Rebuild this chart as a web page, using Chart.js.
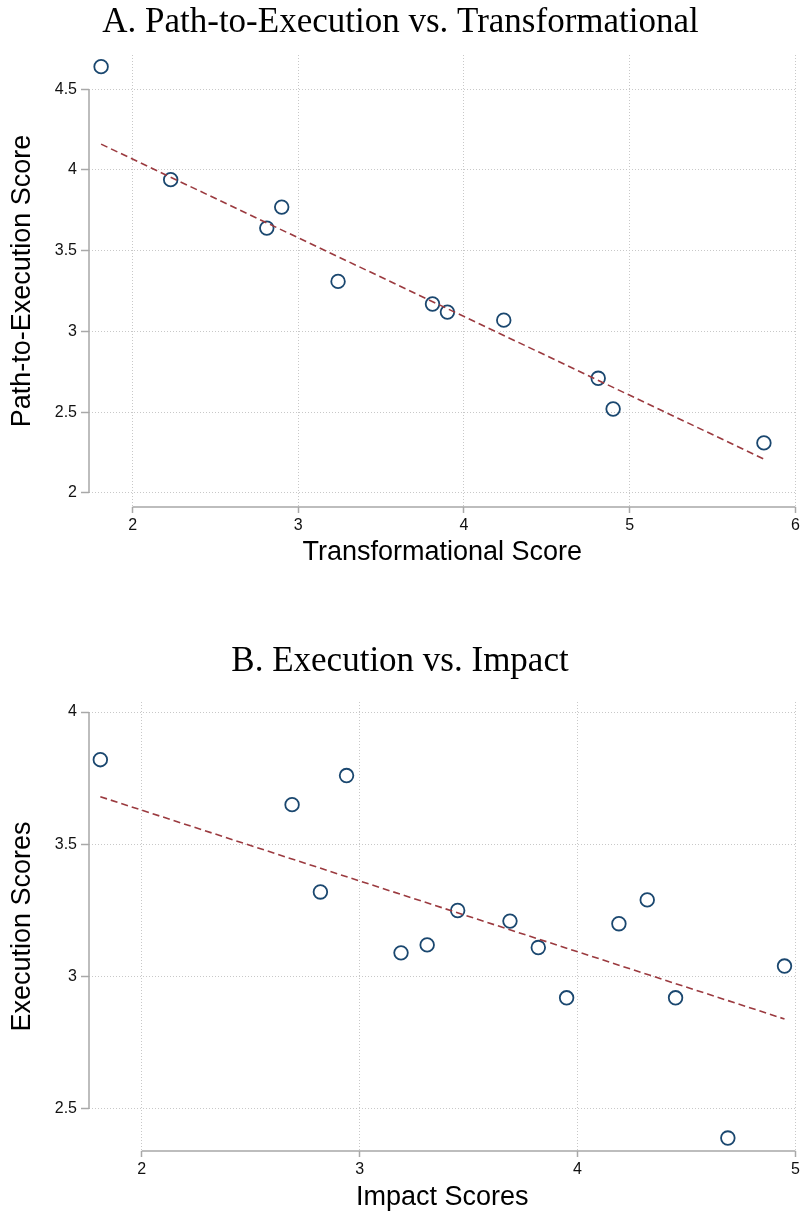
<!DOCTYPE html>
<html>
<head>
<meta charset="utf-8">
<script src="https://cdn.jsdelivr.net/npm/chart.js@4"></script>
<style>
  html, body { margin: 0; padding: 0; background: #fff; }
  canvas { display: block; }
</style>
</head>
<body>
<canvas id="chartA" width="804" height="607"></canvas>
<canvas id="chartB" width="804" height="607"></canvas>
<script>
// Panel A: path-to-execution vs transformational
const transformationalScore = [1.81, 2.23, 2.81, 2.90, 3.24, 3.81, 3.90, 4.24, 4.81, 4.90, 5.81];
const pathToExecutionScore = [4.64, 3.94, 3.64, 3.77, 3.31, 3.17, 3.12, 3.07, 2.71, 2.52, 2.31];
const fitAx = [1.81, 5.81];
const fitAy = [4.16, 2.21];
const ticksAx = [2, 3, 4, 5, 6];
const ticksAy = [2, 2.5, 3, 3.5, 4, 4.5];

// Panel B: execution vs impact
const impactScores = [1.81, 2.69, 2.82, 2.94, 3.19, 3.31, 3.45, 3.69, 3.82, 3.95, 4.19, 4.32, 4.45, 4.69, 4.95];
const executionScores = [3.82, 3.65, 3.32, 3.76, 3.09, 3.12, 3.25, 3.21, 3.11, 2.92, 3.20, 3.29, 2.92, 2.39, 3.04];
const fitBx = [1.81, 4.95];
const fitBy = [3.68, 2.84];
const ticksBx = [2, 3, 4, 5];
const ticksBy = [2.5, 3, 3.5, 4];

const markerColor = '#1a476f';
const fitColor = '#9b3a3f';
const axisColor = '#a8a8a8';
const gridColor = '#c8c8c8';
const sans = "'Liberation Sans', Arial, sans-serif";
const serif = "'Liberation Serif', 'Times New Roman', serif";

// axis lines that only run between the first and last tick
const trimmedAxes = {
  id: 'trimmedAxes',
  beforeDatasetsDraw(chart) {
    const {ctx, chartArea, scales: {x, y}} = chart;
    const xt = x.ticks, yt = y.ticks;
    ctx.save();
    ctx.strokeStyle = axisColor;
    ctx.lineWidth = 1.5;
    ctx.setLineDash([]);
    ctx.beginPath();
    ctx.moveTo(chartArea.left, y.getPixelForValue(yt[yt.length - 1].value));
    ctx.lineTo(chartArea.left, y.getPixelForValue(yt[0].value));
    ctx.moveTo(x.getPixelForValue(xt[0].value), chartArea.bottom);
    ctx.lineTo(x.getPixelForValue(xt[xt.length - 1].value), chartArea.bottom);
    ctx.stroke();
    ctx.restore();
  }
};

function toPoints(xs, ys) {
  return xs.map((v, i) => ({x: v, y: ys[i]}));
}

function axis(opts) {
  return {
    type: 'linear',
    min: opts.min,
    max: opts.max,
    afterBuildTicks: s => { s.ticks = opts.ticks.map(v => ({value: v})); },
    afterFit: s => {
      if (opts.width) s.width = opts.width;
      if (opts.height) s.height = opts.height;
      s.paddingLeft = 0; s.paddingRight = 0; s.paddingTop = 0; s.paddingBottom = 0;
    },
    grid: {
      color: gridColor, lineWidth: 1, borderDash: [1, 2],
      tickColor: axisColor, tickWidth: 1.5, tickLength: opts.tickLength, tickBorderDash: []
    },
    border: { display: false, dash: [1, 2] },
    ticks: {
      color: '#111', padding: opts.tickPadding, autoSkip: false, maxRotation: 0,
      font: { family: sans, size: 16 },
      callback: v => String(v)
    },
    title: {
      display: true, text: opts.title, color: '#000',
      font: { family: sans, size: 27, lineHeight: 1.2 },
      padding: opts.titlePadding
    }
  };
}

function makeChart(id, cfg) {
  return new Chart(document.getElementById(id), {
    type: 'scatter',
    data: {
      datasets: [
        {
          data: toPoints(cfg.fitX, cfg.fitY),
          showLine: true,
          borderColor: fitColor,
          borderWidth: 1.6,
          borderDash: [7, 4],
          pointRadius: 0,
          clip: false
        },
        {
          data: toPoints(cfg.x, cfg.y),
          pointStyle: 'circle',
          pointRadius: 6.8,
          pointBorderWidth: 1.8,
          borderColor: markerColor,
          backgroundColor: 'rgba(255,255,255,0)',
          clip: false
        }
      ]
    },
    options: {
      responsive: false,
      animation: false,
      devicePixelRatio: 1,
      layout: { padding: { left: 0, right: cfg.rightPad, top: 0, bottom: 0 } },
      plugins: {
        legend: { display: false },
        tooltip: { enabled: false },
        title: {
          display: true, text: cfg.title, color: '#000',
          font: { family: serif, size: 35, weight: 'normal', lineHeight: 1.2 },
          padding: cfg.titlePadding
        }
      },
      scales: {
        x: axis({ min: cfg.xMin, max: cfg.xMax, ticks: cfg.xTicks, height: cfg.xHeight,
                  tickLength: 6, tickPadding: 3, title: cfg.xTitle,
                  titlePadding: { top: 0, bottom: cfg.xTitleBottom } }),
        y: axis({ min: cfg.yMin, max: cfg.yMax, ticks: cfg.yTicks, width: 89,
                  tickLength: 8, tickPadding: 4, title: cfg.yTitle,
                  titlePadding: { top: 6, bottom: 0 } })
      }
    },
    plugins: [trimmedAxes]
  });
}

makeChart('chartA', {
  title: 'A. Path-to-Execution vs. Transformational',
  titlePadding: { top: 2, bottom: 11 },
  x: transformationalScore, y: pathToExecutionScore, fitX: fitAx, fitY: fitAy,
  xMin: 1.737, xMax: 6.0, yMin: 1.913, yMax: 4.712,
  xTicks: ticksAx, yTicks: ticksAy,
  xTitle: 'Transformational Score', yTitle: 'Path-to-Execution Score',
  xHeight: 100, xTitleBottom: 38, rightPad: 3
});

makeChart('chartB', {
  title: 'B. Execution vs. Impact',
  titlePadding: { top: 34, bottom: 19 },
  x: impactScores, y: executionScores, fitX: fitBx, fitY: fitBy,
  xMin: 1.758, xMax: 5.0, yMin: 2.341, yMax: 4.038,
  xTicks: ticksBx, yTicks: ticksBy,
  xTitle: 'Impact Scores', yTitle: 'Execution Scores',
  xHeight: 63, xTitleBottom: 0, rightPad: 4
});
</script>
</body>
</html>
